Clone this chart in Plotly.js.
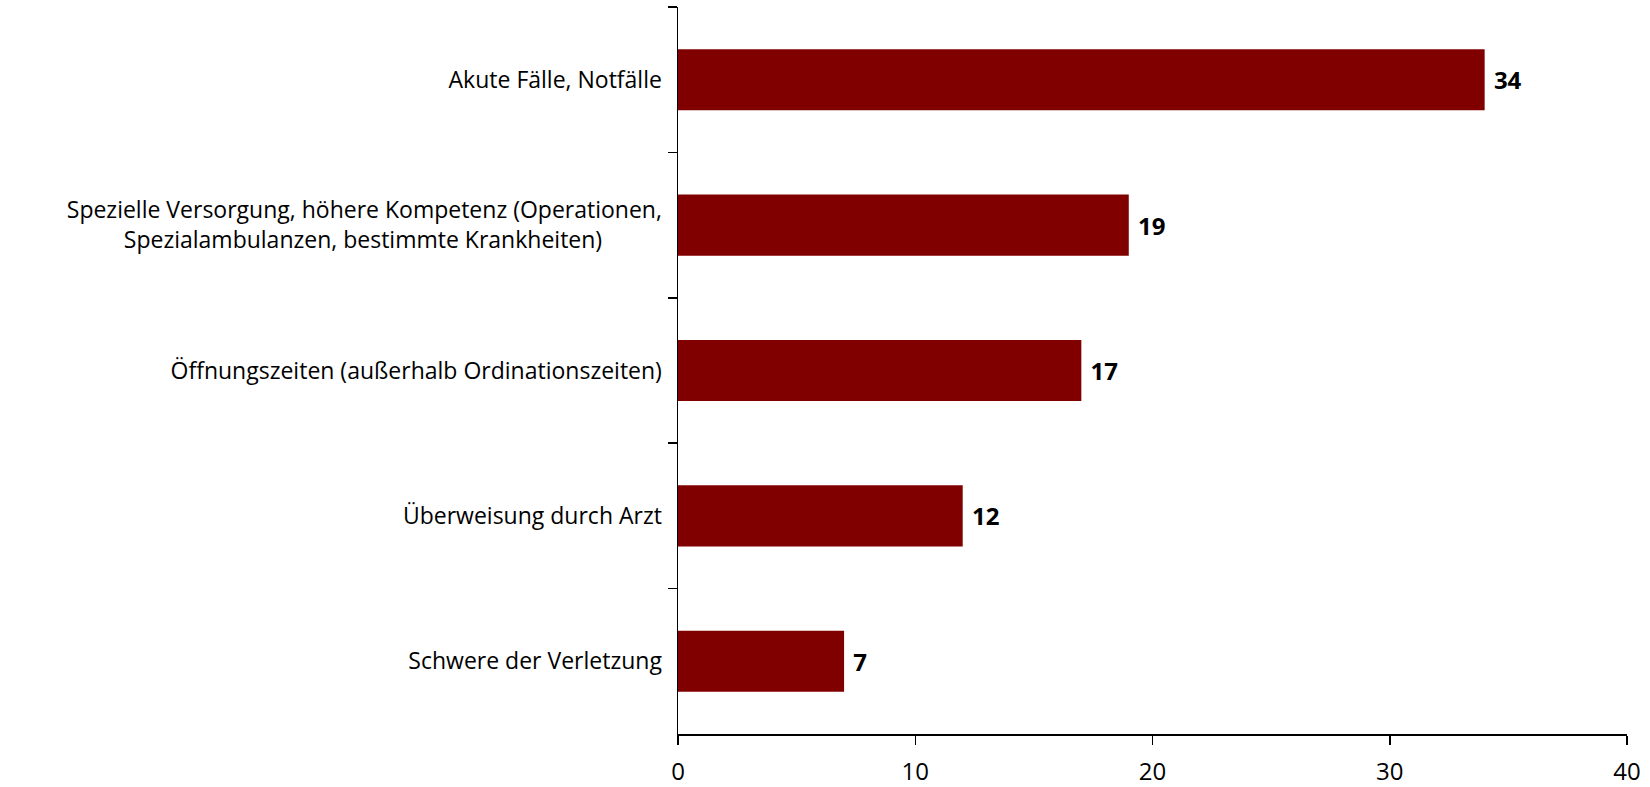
<!DOCTYPE html>
<html>
<head>
<meta charset="utf-8">
<script src="https://cdn.plot.ly/plotly-3.0.1.min.js"></script>
<style>
  html, body { margin: 0; padding: 0; background: #fff; }
  #chart { width: 1650px; height: 787px; }
</style>
</head>
<body>
<div id="chart"></div>
<script>
// Gründe für den Besuch der Ambulanz (Werte in %)
const NB = '\u00A0';
const categories = [
    'Akute Fälle, Notfälle',
    'Spezielle Versorgung, höhere Kompetenz (Operationen,<br>Spezialambulanzen, bestimmte Krankheiten)' + NB.repeat(10),
    'Öffnungszeiten (außerhalb Ordinationszeiten)',
    'Überweisung durch Arzt',
    'Schwere der Verletzung'
];
const values = [34, 19, 17, 12, 7];

const xTicks = [0, 10, 20, 30, 40];

const trace = {
    type: 'bar',
    orientation: 'h',
    y: categories,
    x: values,
    marker: { color: '#800000' },
    text: values.map(v => NB + v),
    textposition: 'outside',
    textfont: { family: '"Open Sans", sans-serif', size: 24, color: '#000', weight: 'bold' },
    cliponaxis: false,
    hoverinfo: 'x+y'
};

const layout = {
    width: 1650,
    height: 787,
    margin: { l: 678, r: 23, t: 7, b: 53 },
    paper_bgcolor: '#fff',
    plot_bgcolor: '#fff',
    bargap: 0.58,
    showlegend: false,
    font: { family: '"Open Sans", sans-serif', size: 23, color: '#000' },
    xaxis: {
        range: [0, 40],
        tickvals: xTicks,
        ticktext: xTicks.map(String),
        showgrid: false,
        zeroline: false,
        showline: true,
        linecolor: '#000',
        linewidth: 1.5,
        ticks: 'outside',
        ticklen: 9,
        tickwidth: 1.5,
        tickcolor: '#000',
        ticklabelstandoff: 7,
        tickfont: { size: 24 }
    },
    yaxis: {
        autorange: 'reversed',
        showgrid: false,
        zeroline: false,
        showline: true,
        linecolor: '#000',
        linewidth: 1.5,
        ticks: 'outside',
        tickson: 'boundaries',
        ticklen: 9,
        tickwidth: 1.5,
        tickcolor: '#000',
        ticklabelstandoff: 10,
        tickfont: { size: 23 }
    }
};

Plotly.newPlot('chart', [trace], layout, { displayModeBar: false, staticPlot: true });
</script>
</body>
</html>
